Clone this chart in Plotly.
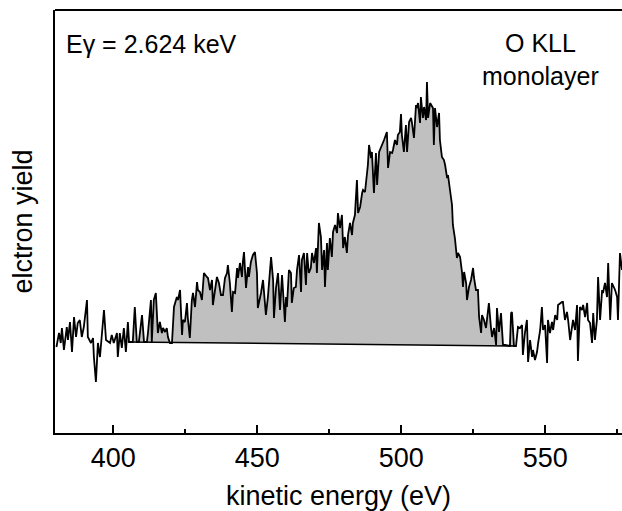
import numpy as np
import plotly.graph_objects as go

# O KLL Auger spectrum of an oxygen monolayer, excited at 2.624 keV
energy = [
    380.3, 381.2, 381.8, 382.2, 382.9, 383.9, 384.3, 385.0, 385.7, 386.4,
    387.1, 387.7, 388.4, 389.1, 389.8, 390.9, 391.2, 392.3, 393.0, 393.3,
    394.0, 394.7, 395.4, 396.1, 396.8, 397.5, 398.2, 398.9, 399.5, 400.2,
    401.3, 401.6, 402.3, 403.0, 403.7, 404.4, 405.1, 405.5, 406.5, 406.8,
    407.5, 408.2, 408.9, 410.0, 410.7, 411.7, 412.1, 413.1, 413.4, 414.1,
    414.8, 415.5, 416.2, 416.9, 417.3, 418.0, 418.6, 419.0, 419.7, 420.4,
    421.1, 422.1, 422.5, 423.2, 423.9, 424.2, 424.9, 425.6, 425.9, 426.6,
    427.3, 427.7, 428.4, 429.1, 429.4, 430.1, 430.8, 431.5, 432.5, 432.9,
    433.6, 434.3, 434.6, 435.3, 436.0, 436.7, 437.4, 438.1, 438.8, 439.5,
    439.8, 440.5, 441.2, 441.6, 442.3, 443.0, 443.3, 444.0, 444.7, 445.0,
    445.4, 446.1, 446.8, 447.1, 447.8, 448.5, 449.2, 449.9, 450.2, 451.3,
    452.0, 453.0, 453.7, 454.8, 455.5, 455.8, 456.5, 457.2, 457.9, 458.6,
    459.3, 459.6, 460.0, 460.3, 461.0, 461.7, 462.0, 462.7, 463.4, 463.8,
    464.5, 465.2, 465.5, 466.2, 466.9, 467.3, 467.9, 468.6, 469.0, 469.7,
    470.4, 470.7, 471.4, 472.1, 472.5, 473.2, 473.5, 474.2, 474.5, 475.2,
    475.9, 476.3, 477.0, 477.7, 478.0, 478.7, 479.4, 479.8, 480.4, 481.1,
    481.5, 482.2, 482.9, 483.2, 483.9, 484.6, 485.0, 485.7, 486.4, 486.7,
    487.4, 488.1, 488.4, 488.8, 489.5, 489.8, 490.5, 491.2, 491.6, 492.3,
    492.9, 493.3, 494.0, 495.0, 495.4, 496.1, 496.8, 497.1, 497.8, 498.5,
    498.8, 499.5, 499.9, 500.2, 500.9, 501.6, 502.0, 502.7, 503.4, 503.7,
    504.4, 505.1, 505.4, 505.8, 506.5, 506.8, 507.5, 507.9, 508.6, 508.9,
    509.3, 510.0, 510.7, 511.0, 511.3, 511.7, 512.4, 513.1, 513.4, 514.1,
    514.8, 515.2, 515.9, 516.2, 516.9, 517.6, 517.9, 518.6, 519.3, 519.7,
    520.4, 521.1, 521.4, 521.8, 522.5, 522.8, 523.5, 524.2, 524.9, 525.2,
    525.9, 526.6, 527.0, 527.7, 528.0, 528.7, 529.4, 529.8, 530.4, 531.1,
    531.5, 532.2, 532.9, 533.2, 533.9, 534.6, 535.3, 536.0, 537.7, 538.1,
    538.4, 539.1, 539.8, 540.5, 541.2, 541.9, 542.2, 542.9, 543.6, 544.0,
    544.7, 545.4, 545.7, 546.4, 547.1, 547.5, 548.2, 548.8, 549.2, 549.9,
    550.6, 550.9, 551.6, 552.3, 552.7, 553.4, 554.1, 554.4, 555.1, 555.8,
    556.1, 556.8, 557.5, 557.9, 558.6, 559.3, 559.6, 560.3, 561.0, 561.3,
    562.0, 562.7, 563.1, 563.8, 564.5, 564.8, 565.5, 566.2, 566.6, 567.2,
    567.9, 568.3, 569.0, 569.7, 570.0, 570.7, 571.4, 571.8, 572.5, 573.1,
    573.5, 574.2, 574.9, 575.2, 575.9, 576.6,
]
electron_yield = [
    86, 100, 90, 105, 83, 106, 93, 111, 81, 116,
    96, 110, 113, 96, 106, 133, 96, 90, 95, 76,
    51, 90, 76, 103, 123, 93, 91, 90, 98, 90,
    100, 76, 100, 85, 105, 81, 111, 91, 91, 91,
    126, 91, 91, 118, 91, 91, 101, 133, 91, 133,
    140, 100, 111, 100, 105, 101, 105, 96, 90, 90,
    126, 136, 133, 143, 98, 113, 111, 130, 115, 95,
    133, 140, 126, 151, 143, 141, 133, 160, 156, 155,
    143, 153, 128, 145, 156, 150, 138, 138, 155, 160,
    168, 150, 121, 141, 140, 165, 155, 170, 156, 171,
    181, 145, 166, 156, 171, 178, 181, 160, 125, 140,
    153, 118, 136, 176, 153, 115, 145, 160, 123, 158,
    118, 111, 136, 126, 163, 160, 130, 145, 146, 163,
    178, 141, 173, 180, 148, 180, 160, 165, 180, 170,
    185, 160, 210, 196, 163, 183, 146, 190, 163, 195,
    176, 201, 208, 200, 220, 205, 218, 185, 196, 180,
    198, 210, 198, 210, 218, 253, 220, 226, 240, 243,
    241, 258, 268, 288, 275, 281, 240, 280, 248, 281,
    286, 288, 293, 301, 265, 281, 280, 283, 293, 288,
    298, 301, 319, 298, 281, 308, 281, 311, 315, 310,
    295, 328, 325, 330, 310, 336, 315, 326, 313, 351,
    315, 330, 326, 325, 288, 325, 306, 320, 293, 276,
    273, 268, 255, 258, 243, 228, 208, 195, 175, 180,
    176, 160, 146, 161, 150, 133, 146, 153, 165, 156,
    143, 143, 116, 100, 118, 113, 105, 116, 130, 106,
    96, 105, 88, 125, 101, 120, 88, 88, 87, 120,
    121, 87, 87, 106, 105, 108, 78, 100, 113, 71,
    93, 76, 83, 73, 81, 90, 103, 126, 103, 108,
    70, 113, 100, 111, 103, 118, 113, 128, 130, 131,
    131, 113, 121, 113, 93, 110, 113, 103, 128, 72,
    126, 123, 128, 116, 130, 113, 110, 90, 120, 93,
    113, 156, 113, 143, 140, 150, 136, 170, 113, 150,
    148, 143, 136, 113, 180, 163,
]

# Linear background under the Auger peak
bg_energy = [405.1, 539.8]
bg_yield = [91, 87]

x_ticks = [400, 450, 500, 550]
x_range = [379.8, 576.6]
y_range = [0, 423]

FONT = "Liberation Sans, Arial, Helvetica, sans-serif"

e = np.array(energy)
y = np.array(electron_yield, dtype=float)

# Shaded peak area between the spectrum and the background line
inside = (e > bg_energy[0]) & (e < bg_energy[1])
peak_e = np.concatenate(([bg_energy[0]], e[inside], [bg_energy[1]]))
peak_bg = np.interp(peak_e, bg_energy, bg_yield)
peak_top = np.maximum(np.interp(peak_e, e, y), peak_bg)

fig = go.Figure()
fig.add_trace(go.Scatter(
    x=np.concatenate((peak_e, peak_e[::-1])),
    y=np.concatenate((peak_top, peak_bg[::-1])),
    fill="toself", fillcolor="#c0c0c0", mode="none",
    hoverinfo="skip", showlegend=False,
))
fig.add_trace(go.Scatter(
    x=bg_energy, y=bg_yield, mode="lines",
    line=dict(color="black", width=1.6), showlegend=False,
))
fig.add_trace(go.Scatter(
    x=energy, y=electron_yield, mode="lines",
    line=dict(color="black", width=1.8), showlegend=False,
))

fig.update_layout(
    width=622, height=511,
    margin=dict(l=55, r=0, t=10, b=78),
    paper_bgcolor="white", plot_bgcolor="white",
    font=dict(family=FONT, size=25, color="black"),
    showlegend=False,
    xaxis=dict(
        range=x_range, tickvals=x_ticks, ticks="inside", ticklen=8,
        tickwidth=1.5, tickcolor="black", showline=True, linewidth=2,
        linecolor="black", showgrid=False, zeroline=False,
        minor=dict(dtick=25, tick0=400, ticks="inside", ticklen=4,
                   tickwidth=1.5, tickcolor="black"),
        tickfont=dict(size=27),
        title=dict(text="kinetic energy (eV)", font=dict(size=27), standoff=14),
    ),
    yaxis=dict(
        range=y_range, showticklabels=False, ticks="", showline=True,
        linewidth=2, linecolor="black", showgrid=False, zeroline=False,
    ),
    shapes=[dict(type="line", xref="paper", yref="paper", x0=0, x1=1,
                 y0=1, y1=1, line=dict(color="black", width=2))],
    annotations=[
        dict(text="elctron yield", textangle=-90, xref="paper", yref="paper",
             x=-0.058, y=0.5, xanchor="center", yanchor="middle",
             showarrow=False, font=dict(size=27)),
        dict(text="Eγ = 2.624 keV", xref="paper", yref="paper",
             x=0.016, y=0.92, xanchor="left", yanchor="middle",
             showarrow=False, font=dict(size=25)),
        dict(text="O KLL", xref="paper", yref="paper",
             x=0.856, y=0.922, xanchor="center", yanchor="middle",
             showarrow=False, font=dict(size=25)),
        dict(text="monolayer", xref="paper", yref="paper",
             x=0.856, y=0.845, xanchor="center", yanchor="middle",
             showarrow=False, font=dict(size=25)),
    ],
)

fig.write_html("out.html")
